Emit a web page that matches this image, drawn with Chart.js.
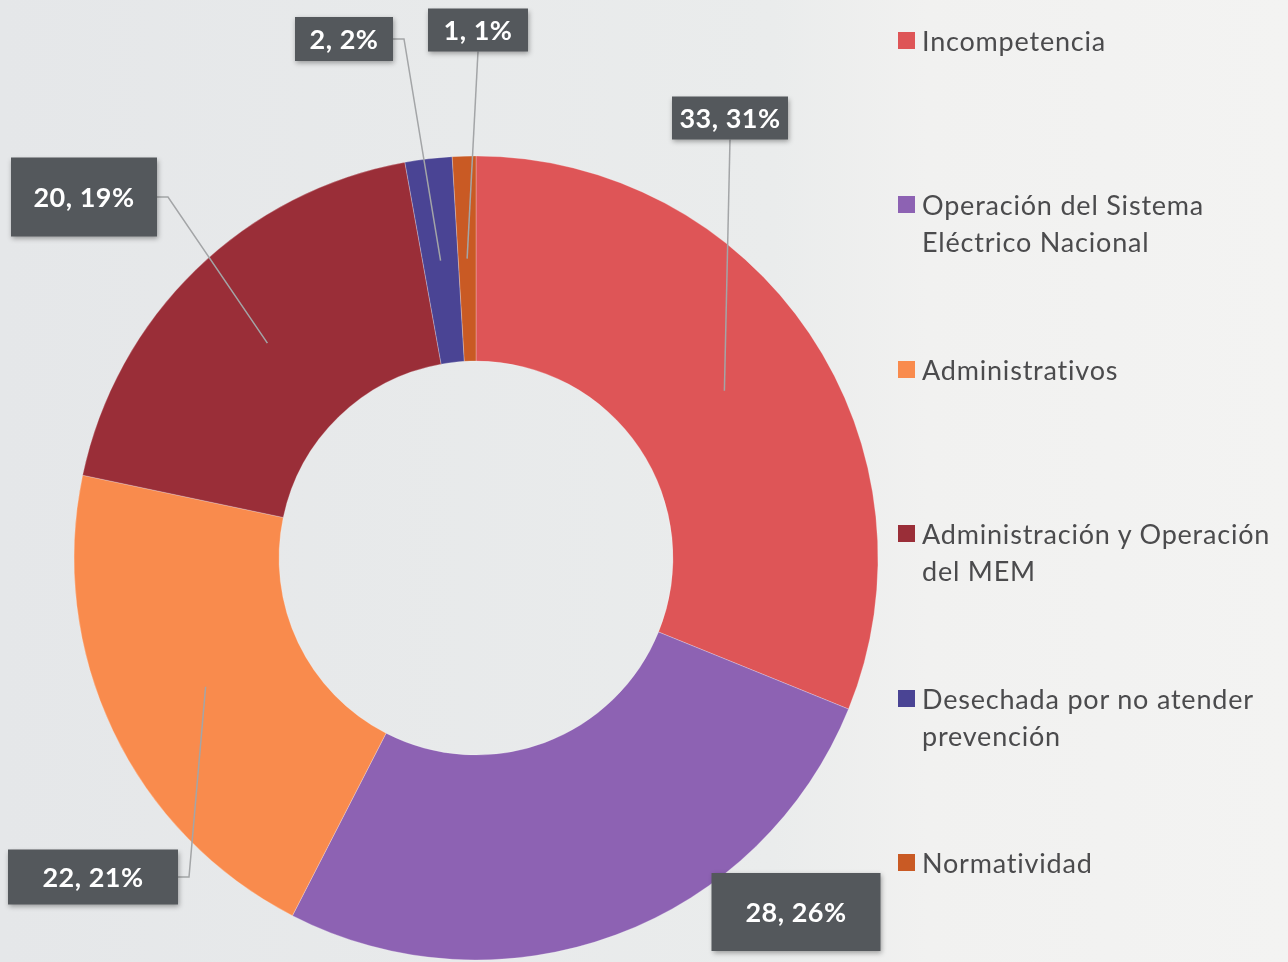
<!DOCTYPE html>
<html>
<head>
<meta charset="utf-8">
<script src="https://cdn.jsdelivr.net/npm/chart.js@4.4.1/dist/chart.umd.min.js"></script>
<style>
  html, body { margin: 0; padding: 0; }
  body {
    width: 1288px; height: 962px; overflow: hidden; position: relative;
    background: linear-gradient(90deg, #e5e7e9 0%, #eaecec 60%, #f1f1f0 72%, #f3f3f2 100%);
    font-family: Lato, "Open Sans", sans-serif;
  }
  #wrap { position: absolute; left: 0; top: 0; width: 1288px; height: 962px; }
  #legend { position: absolute; left: 0; top: 0; }
  .item { position: absolute; left: 898px; display: flex; align-items: flex-start; }
  .sw { width: 17px; height: 17px; margin-top: 10px; margin-right: 7px; flex: none; }
  .txt { font-size: 27px; letter-spacing: 0.8px; line-height: 37px; color: #4b4b4d; white-space: nowrap; }
</style>
</head>
<body>
<div id="wrap"><canvas id="grafico" width="1288" height="962"></canvas></div>
<div id="legend"></div>
<script>
// Datos
const categorias = [
  ['Incompetencia'],
  ['Operación del Sistema', 'Eléctrico Nacional'],
  ['Administrativos'],
  ['Administración y Operación', 'del MEM'],
  ['Desechada por no atender', 'prevención'],
  ['Normatividad']
];
const valores = [33, 28, 22, 20, 2, 1];
const colores = ['#de5557', '#8d62b3', '#f98b4d', '#9a2e38', '#4a4494', '#c95a24'];

// Cajas de etiquetas: centro, tamaño y tipo de guía
const cajas = [
  { cx: 730, cy: 118, w: 116, h: 43, guia: 'abajo' },
  { cx: 796, cy: 912, w: 169, h: 78, guia: 'ninguna' },
  { cx: 93, cy: 877, w: 170, h: 55, guia: 'derecha' },
  { cx: 84, cy: 197, w: 146, h: 79, guia: 'derecha' },
  { cx: 344, cy: 39, w: 98, h: 44, guia: 'derecha' },
  { cx: 478, cy: 30, w: 100, h: 43, guia: 'abajo' }
];

const total = valores.reduce((a, b) => a + b, 0);

const etiquetasPlugin = {
  id: 'etiquetas',
  afterDatasetsDraw(chart) {
    const ctx = chart.ctx;
    const meta = chart.getDatasetMeta(0);
    meta.data.forEach((arc, i) => {
      const p = arc.getProps(['x', 'y', 'startAngle', 'endAngle', 'innerRadius', 'outerRadius'], true);
      const a = (p.startAngle + p.endAngle) / 2;
      const r = (p.innerRadius + p.outerRadius) / 2;
      const ax = p.x + Math.cos(a) * r;
      const ay = p.y + Math.sin(a) * r;
      const b = cajas[i];
      const left = b.cx - b.w / 2, top = b.cy - b.h / 2;

      // línea guía
      ctx.save();
      ctx.strokeStyle = '#a3a5a7';
      ctx.lineWidth = 1.5;
      ctx.beginPath();
      if (b.guia === 'derecha') {
        ctx.moveTo(left + b.w, b.cy);
        ctx.lineTo(left + b.w + 11, b.cy);
        ctx.lineTo(ax, ay);
      } else if (b.guia === 'abajo') {
        ctx.moveTo(b.cx, top + b.h);
        ctx.lineTo(ax, ay);
      }
      ctx.stroke();
      ctx.restore();

      // caja
      ctx.save();
      ctx.shadowColor = 'rgba(0,0,0,0.35)';
      ctx.shadowBlur = 5;
      ctx.shadowOffsetX = 1;
      ctx.shadowOffsetY = 2;
      ctx.fillStyle = '#54585c';
      ctx.fillRect(left, top, b.w, b.h);
      ctx.restore();

      // texto
      const pct = Math.round(valores[i] / total * 100);
      ctx.save();
      ctx.fillStyle = '#ffffff';
      ctx.font = 'bold 27px Lato, "Open Sans", sans-serif';
      ctx.letterSpacing = '0.5px';
      ctx.textAlign = 'center';
      ctx.textBaseline = 'middle';
      ctx.fillText(valores[i] + ', ' + pct + '%', b.cx, b.cy + 1);
      ctx.restore();
    });
  }
};

new Chart(document.getElementById('grafico'), {
  type: 'doughnut',
  data: {
    labels: categorias.map(l => l.join(' ')),
    datasets: [{
      data: valores,
      backgroundColor: colores,
      borderColor: 'rgba(255,255,255,0.25)',
      borderWidth: 1
    }]
  },
  options: {
    responsive: false,
    animation: false,
    radius: 402,
    cutout: '49%',
    layout: { padding: { left: 0, right: 336, top: 154, bottom: 0 } },
    plugins: {
      legend: { display: false },
      tooltip: { enabled: false }
    }
  },
  plugins: [etiquetasPlugin]
});

// Leyenda
const leyenda = document.getElementById('legend');
categorias.forEach((lineas, i) => {
  const item = document.createElement('div');
  item.className = 'item';
  item.style.top = (40 + i * 164.5 - 18.5) + 'px';
  const sw = document.createElement('div');
  sw.className = 'sw';
  sw.style.background = colores[i];
  const txt = document.createElement('div');
  txt.className = 'txt';
  txt.innerHTML = lineas.join('<br>');
  item.appendChild(sw);
  item.appendChild(txt);
  leyenda.appendChild(item);
});
</script>
</body>
</html>
